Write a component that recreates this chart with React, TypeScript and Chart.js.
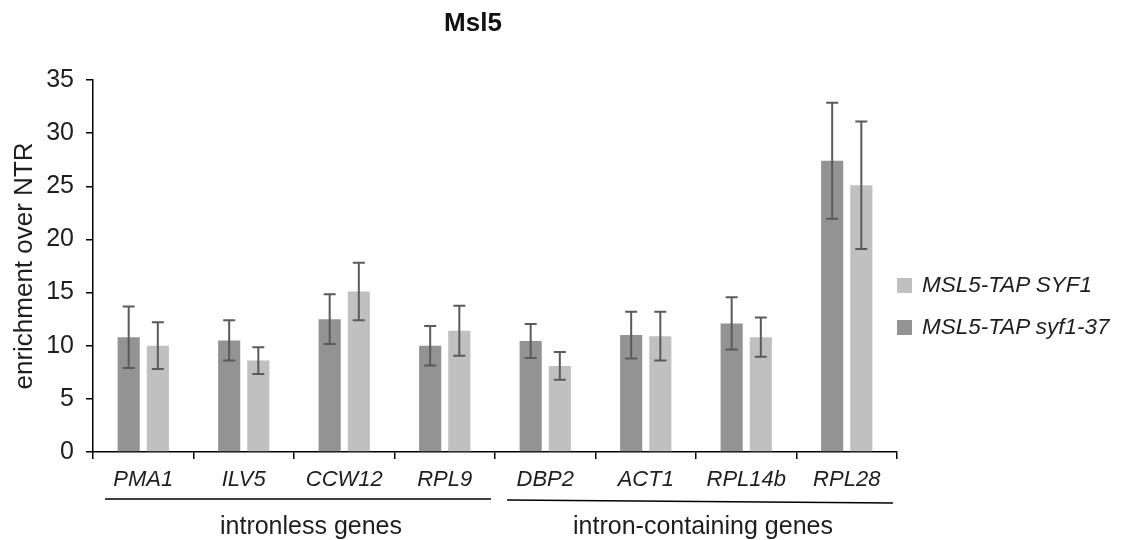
import React, { useEffect, useRef } from "react";
import { Chart, registerables } from "chart.js";

Chart.register(...registerables);

const categories = ["PMA1", "ILV5", "CCW12", "RPL9", "DBP2", "ACT1", "RPL14b", "RPL28"];
const mutantLabel = "MSL5-TAP syf1-37";
const mutantValues = [10.8, 10.5, 12.5, 10.0, 10.45, 11.0, 12.1, 27.4];
const mutantErrors = [2.9, 1.9, 2.35, 1.85, 1.6, 2.2, 2.45, 5.45];
const wildLabel = "MSL5-TAP SYF1";
const wildValues = [10.0, 8.6, 15.1, 11.4, 8.1, 10.9, 10.8, 25.1];
const wildErrors = [2.2, 1.25, 2.7, 2.35, 1.3, 2.3, 1.85, 6.0];
const yTicks = [0, 5, 10, 15, 20, 25, 30, 35];
const groupLabels = ["intronless genes", "intron-containing genes"];
const groupFrom = [0, 4];
const groupTo = [3, 7];

const FONT = "'Liberation Sans', Arial, sans-serif";
const DARK = "#939393";
const LIGHT = "#c0c0c0";
const TEXT = "#1e1e1e";

const errorBarPlugin = {
  id: "errorBars",
  afterDatasetsDraw(chart: any) {
    const ctx = chart.ctx;
    const y = chart.scales.y;
    chart.data.datasets.forEach((ds: any, i: number) => {
      const meta = chart.getDatasetMeta(i);
      meta.data.forEach((bar: any, j: number) => {
        const v = ds.data[j];
        const e = ds.errors[j];
        const yt = y.getPixelForValue(v + e);
        const yb = y.getPixelForValue(v - e);
        ctx.save();
        ctx.strokeStyle = "#5a5a5a";
        ctx.lineWidth = 2;
        ctx.beginPath();
        ctx.moveTo(bar.x, yt);
        ctx.lineTo(bar.x, yb);
        ctx.moveTo(bar.x - 6, yt);
        ctx.lineTo(bar.x + 6, yt);
        ctx.moveTo(bar.x - 6, yb);
        ctx.lineTo(bar.x + 6, yb);
        ctx.stroke();
        ctx.restore();
      });
    });
  },
};

const groupPlugin = {
  id: "groups",
  afterDraw(chart: any) {
    const ctx = chart.ctx;
    const x = chart.scales.x;
    const bottom = chart.chartArea.bottom;
    const half = (x.getPixelForValue(1) - x.getPixelForValue(0)) / 2;
    groupLabels.forEach((label, g) => {
      const xl = x.getPixelForValue(groupFrom[g]) - half + 12;
      const xr = x.getPixelForValue(groupTo[g]) + half - 4;
      const ly = bottom + 47 + g * 1;
      ctx.save();
      ctx.strokeStyle = "#000";
      ctx.lineWidth = 1.5;
      ctx.beginPath();
      ctx.moveTo(xl, ly);
      ctx.lineTo(xr, ly + g * 3);
      ctx.stroke();
      ctx.fillStyle = TEXT;
      ctx.font = `25px ${FONT}`;
      ctx.textAlign = "center";
      ctx.textBaseline = "middle";
      ctx.fillText(label, (xl + xr) / 2 + (g === 0 ? 13 : 3), bottom + 75);
      ctx.restore();
    });
  },
};

export default function App() {
  const ref = useRef<HTMLCanvasElement>(null);
  useEffect(() => {
    if (!ref.current) return;
    const chart = new Chart(ref.current, {
      type: "bar",
      data: {
        labels: categories,
        datasets: [
          {
            label: mutantLabel,
            data: mutantValues,
            errors: mutantErrors,
            backgroundColor: DARK,
            categoryPercentage: 0.58,
            barPercentage: 0.76,
          } as any,
          {
            label: wildLabel,
            data: wildValues,
            errors: wildErrors,
            backgroundColor: LIGHT,
            categoryPercentage: 0.58,
            barPercentage: 0.76,
          } as any,
        ],
      },
      options: {
        animation: false,
        responsive: false,
        layout: { padding: { left: 0, right: 232, top: 80, bottom: 0 } },
        plugins: {
          legend: { display: false },
          title: { display: false },
          tooltip: { enabled: false },
        },
        scales: {
          x: {
            offset: true,
            grid: {
              offset: true,
              drawOnChartArea: false,
              drawTicks: true,
              tickLength: 7,
              color: "#000",
              lineWidth: 1.5,
            },
            border: { color: "#000", width: 1.5 },
            ticks: {
              color: TEXT,
              font: { family: FONT, size: 22, style: "italic" },
              padding: 8,
              maxRotation: 0,
              autoSkip: false,
            },
            afterFit(scale: any) {
              scale.height = 88;
            },
          },
          y: {
            min: 0,
            max: 35,
            afterBuildTicks(scale: any) {
              scale.ticks = yTicks.map((v) => ({ value: v }));
            },
            grid: {
              drawOnChartArea: false,
              drawTicks: true,
              tickLength: 7,
              color: "#000",
              lineWidth: 1.5,
            },
            border: { color: "#000", width: 1.5 },
            ticks: {
              color: TEXT,
              font: { family: FONT, size: 25 },
              padding: 12,
            },
            title: {
              display: true,
              text: "enrichment over NTR",
              color: TEXT,
              font: { family: FONT, size: 26 },
              padding: { top: 9, bottom: 0 },
            },
            afterFit(scale: any) {
              scale.width = 93;
            },
          },
        },
      },
      plugins: [errorBarPlugin, groupPlugin],
    });
    return () => chart.destroy();
  }, []);

  const legendItems = [
    { label: wildLabel, color: LIGHT },
    { label: mutantLabel, color: DARK },
  ];

  return (
    <div style={{ position: "absolute", left: 0, top: 0, width: 1129, height: 540, background: "#fff", fontFamily: FONT }}>
      <canvas ref={ref} width={1129} height={540} style={{ position: "absolute", left: 0, top: 0 }} />
      <div
        style={{
          position: "absolute",
          left: 373,
          width: 200,
          top: 6,
          textAlign: "center",
          fontWeight: "bold",
          fontSize: 26,
          lineHeight: "32px",
          color: "#111",
        }}
      >
        Msl5
      </div>
      {legendItems.map((it, i) => (
        <div
          key={it.label}
          style={{
            position: "absolute",
            left: 897,
            top: 285 - 14 + i * 42,
            height: 28,
            display: "flex",
            alignItems: "center",
            fontSize: 22.5,
            fontStyle: "italic",
            color: TEXT,
            whiteSpace: "nowrap",
          }}
        >
          <span style={{ display: "inline-block", width: 15, height: 15, background: it.color, marginRight: 10 }} />
          {it.label}
        </div>
      ))}
    </div>
  );
}
